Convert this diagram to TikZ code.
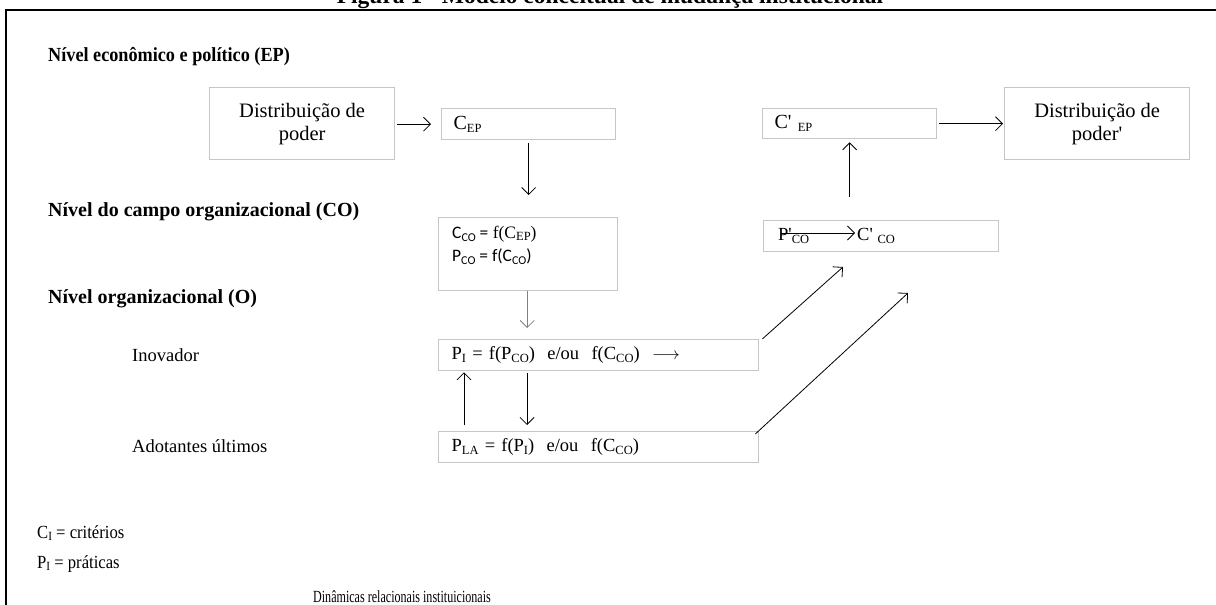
\documentclass[tikz,border=0pt]{standalone}
\usepackage{fontspec}
\setmainfont{Liberation Serif}
\newfontfamily\calib{Carlito}
\usetikzlibrary{arrows.meta}
\newcommand{\sbs}[1]{\raisebox{-0.3ex}{\fontsize{12.5}{13}\selectfont #1}}
\newcommand{\sbc}[1]{\raisebox{-0.3ex}{\fontsize{12}{13}\selectfont\calib #1}}
\newcommand{\apo}{\textquotesingle}
\newcommand{\bodyfont}{\fontsize{18.5}{22}\selectfont}
\newcommand{\boxfont}{\fontsize{20.5}{23}\selectfont}
\newcommand{\headfont}{\fontsize{20}{23}\selectfont\bfseries}
\begin{document}
\begin{tikzpicture}[x=1pt,y=-1pt,
  box/.style={draw=gray!45, line width=1.3pt, anchor=north west, inner sep=0pt, font=\bodyfont},
  lbl/.style={anchor=base west, inner sep=0pt, font=\bodyfont},
  head/.style={anchor=base west, inner sep=0pt, font=\headfont},
  arr/.style={-{Straight Barb[length=7pt,width=14pt]}, line width=0.8pt, draw=black}]
\useasboundingbox (0,0) rectangle (1216,605);
% title (cut at the top)
\node[anchor=base, inner sep=0pt, font=\fontsize{23.5}{25}\selectfont\bfseries] (title) at (610,4) {Figura 1 - Modelo conceitual de mudança institucional};
% frame
\draw[line width=2.6pt] (5,10) -- (1216,10);
\draw[line width=2.6pt] (6,9) -- (6,605);
% level headers
\node[head] (h1) at (48,61) {\scalebox{0.91}[1]{Nível econômico e político (EP)}};
\node[head] (h2) at (48,216) {Nível do campo organizacional (CO)};
\node[head] (h3) at (48,303) {Nível organizacional (O)};
% boxes
\node[box, font=\boxfont, minimum width=185pt, minimum height=72pt, align=center] (dp) at (209,87) {Distribuição de\\poder};
\node[box, minimum width=174pt, minimum height=31pt, text width=150pt, inner xsep=12pt, align=left] (cep) at (441,108) {\fontsize{20}{22}\selectfont C\sbs{EP}};
\node[box, minimum width=174pt, minimum height=30pt, text width=150pt, inner xsep=12pt, align=left] (cepp) at (762,108) {\fontsize{20}{22}\selectfont C\apo{} \sbs{EP}};
\node[box, font=\boxfont, minimum width=185pt, minimum height=72pt, align=center] (dpp) at (1004,87) {Distribuição de\\poder\apo};
\node[box, minimum width=179pt, minimum height=73pt] (cco) at (438,217) {};
\node[anchor=north west, inner sep=0pt, align=left, font=\fontsize{17.5}{21}\selectfont] (ccotxt) at (452,226) {{\calib C\sbc{CO} =} f(C\sbs{EP})\\[2pt]{\calib P\sbc{CO} = f(C\sbc{CO})}};
\node[box, minimum width=235pt, minimum height=31pt] (pco) at (763,220) {};
\node[anchor=west, inner sep=0pt, font=\bodyfont] (pp) at (778,236) {P\apo\sbs{CO}};
\node[anchor=west, inner sep=0pt, font=\bodyfont] (cp) at (857,236) {C\apo{} \sbs{CO}};
\node[box, minimum width=320pt, minimum height=31pt, text width=294pt, inner xsep=13pt, align=left] (pi) at (438,339) {P\sbs{I} = f(P\sbs{CO})\ \ e/ou\ \ f(C\sbs{CO})\ \ $\longrightarrow$};
\node[box, minimum width=320pt, minimum height=31pt, text width=294pt, inner xsep=13pt, align=left] (pla) at (438,431) {P\sbs{LA} = f(P\sbs{I})\ \ e/ou\ \ f(C\sbs{CO})};
% side labels
\node[lbl] (inov) at (132,361) {Inovador};
\node[lbl] (adot) at (132,452) {Adotantes últimos};
\node[lbl, font=\fontsize{18.5}{21}\selectfont] (leg1) at (37,538) {\scalebox{0.9}[1]{C\sbs{I} = critérios}};
\node[lbl, font=\fontsize{18.5}{21}\selectfont] (leg2) at (37,568) {\scalebox{0.9}[1]{P\sbs{I} = práticas}};
\node[anchor=base, inner sep=0pt, font=\fontsize{17}{19}\selectfont] (din) at (402,602) {\scalebox{0.71}[1]{Dinâmicas relacionais instituicionais}};
% free ends of the diagonal arrows
\coordinate (d1) at (843,267);
\coordinate (d2) at (908,293);
% connectors
\draw[arr, shorten <=2pt, shorten >=10pt] (dp.east |- cep.west) -- (cep.west);
\draw[arr, shorten <=3pt, shorten >=22pt] (cep.south) -- (cep.south |- cco.north);
\draw[arr, shorten <=2pt, shorten >=1pt] (cepp.east) -- (dpp.west |- cepp.east);
\draw[arr, shorten <=23pt, shorten >=3pt] (cepp.south |- pco.north) -- (cepp.south);
\draw[arr, draw=gray, shorten >=11pt] ([xshift=-1pt]cco.south) -- ([xshift=-1pt]cco.south |- pi.north);
\draw[arr] ([xshift=-28pt,yshift=3pt]pp.east) -- ([xshift=-2pt,yshift=3pt]cp.west);
\draw[arr] ([xshift=3pt]pi.north east) -- (d1);
\draw[arr] ([xshift=-4pt,yshift=-3pt]pla.north east) -- (d2);
\draw[arr] ([xshift=26pt,yshift=6pt]pla.north west) -- ([xshift=26pt,yshift=-1pt]pi.south west);
\draw[arr] ([xshift=89pt,yshift=-2pt]pi.south west) -- ([xshift=89pt,yshift=6pt]pla.north west);
\end{tikzpicture}
\end{document}
